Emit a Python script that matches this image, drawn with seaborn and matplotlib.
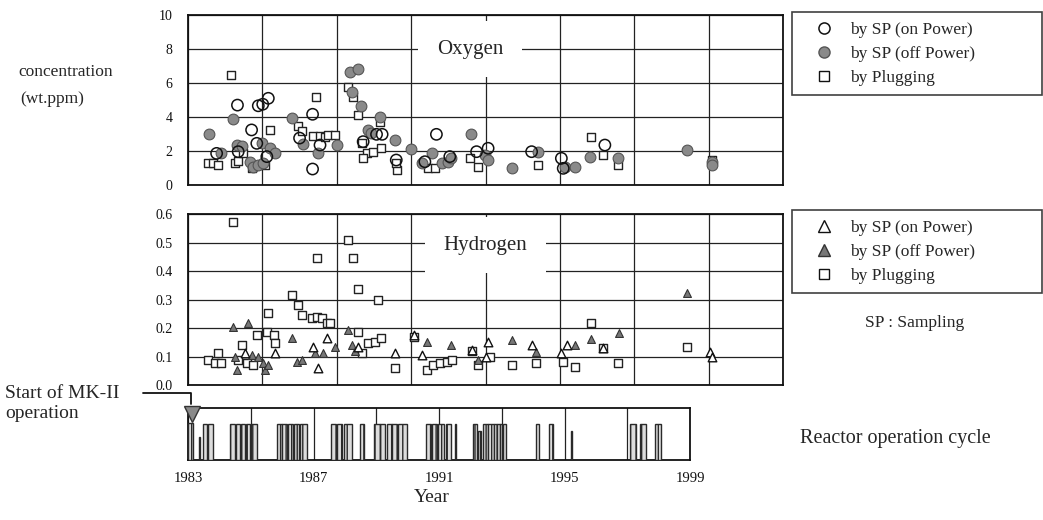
import matplotlib
matplotlib.use("Agg")
import matplotlib.pyplot as plt
from matplotlib.lines import Line2D
import numpy as np
import pandas as pd
import seaborn as sns

# ---------------- data ----------------
# Oxygen (wt.ppm)
o2_on_year = [1983.77, 1984.33, 1984.35, 1984.71, 1984.85, 1984.89, 1985.01, 1985.12, 1985.16,
              1986.00, 1986.35, 1986.35, 1986.55, 1987.71, 1988.07, 1988.22, 1988.60, 1989.37,
              1989.68, 1990.04, 1990.76, 1991.07, 1992.24, 1993.04, 1993.09, 1994.21]
o2_on_val = [1.86, 4.70, 1.96, 3.24, 2.45, 4.66, 4.75, 1.67, 5.10,
             2.76, 4.16, 0.94, 2.35, 2.55, 2.98, 2.98, 1.47, 1.37,
             2.98, 1.67, 1.96, 2.16, 1.96, 1.57, 0.98, 2.35]

o2_off_year = [1983.56, 1983.90, 1984.22, 1984.31, 1984.44, 1984.67, 1984.76, 1984.89, 1984.98,
               1985.02, 1985.20, 1985.34, 1985.79, 1986.10, 1986.50, 1987.00, 1987.36, 1987.58,
               1987.40, 1987.65, 1988.16, 1987.85, 1987.93, 1988.56, 1989.01, 1989.28, 1989.55,
               1989.82, 1990.00, 1990.08, 1990.62, 1990.99, 1991.07, 1991.70, 1992.42, 1993.13,
               1993.40, 1993.81, 1994.57, 1996.41, 1997.08, 1997.10]
o2_off_val = [3.00, 1.86, 3.86, 2.35, 2.30, 1.37, 1.08, 1.18, 2.45,
              1.27, 2.16, 1.86, 3.96, 2.40, 1.86, 2.35, 6.67, 6.82,
              5.49, 4.67, 4.02, 3.24, 3.04, 2.65, 2.12, 1.27, 1.90,
              1.27, 1.37, 1.57, 3.00, 1.76, 1.47, 0.98, 1.96, 1.08,
              1.08, 1.67, 1.57, 2.06, 1.37, 1.18]

o2_plug_year = [1983.55, 1983.68, 1983.82, 1984.16, 1984.26, 1984.35, 1984.49, 1984.71, 1985.07,
                1985.20, 1985.97, 1986.06, 1986.37, 1986.44, 1986.55, 1986.68, 1986.77, 1986.95,
                1987.31, 1987.44, 1987.58, 1988.16, 1987.67, 1987.80, 1987.98, 1988.20, 1987.71,
                1988.63, 1988.58, 1989.46, 1989.64, 1990.58, 1990.80, 1992.42, 1993.85, 1994.17,
                1994.57, 1997.08]
o2_plug_val = [1.27, 1.27, 1.20, 6.47, 1.27, 1.40, 1.86, 0.98, 1.18,
               3.24, 3.50, 3.20, 2.90, 5.20, 2.90, 2.84, 2.94, 2.94,
               5.78, 5.20, 4.12, 3.73, 2.45, 1.86, 1.96, 2.16, 1.57,
               0.88, 1.30, 0.98, 1.00, 1.57, 1.08, 1.18, 2.84, 1.76,
               1.18, 1.47]

# Hydrogen (wt.ppm)
h2_on_year = [1984.53, 1985.34, 1986.37, 1986.50, 1986.73, 1987.58, 1988.56, 1989.07, 1989.28,
              1990.63, 1991.00, 1991.07, 1992.24, 1993.04, 1993.18, 1994.17, 1997.04, 1997.08]
h2_on_val = [0.111, 0.111, 0.134, 0.058, 0.164, 0.134, 0.111, 0.175, 0.105,
             0.123, 0.099, 0.152, 0.140, 0.111, 0.140, 0.129, 0.117, 0.099]

h2_off_year = [1984.22, 1984.62, 1984.26, 1984.31, 1984.71, 1984.89, 1985.03, 1985.07, 1985.16,
               1985.79, 1985.92, 1986.06, 1986.42, 1986.64, 1986.95, 1987.31, 1987.40, 1987.50,
               1989.42, 1990.07, 1990.80, 1991.70, 1992.37, 1993.40, 1993.84, 1994.59, 1996.43]
h2_off_val = [0.205, 0.216, 0.099, 0.053, 0.105, 0.099, 0.076, 0.053, 0.070,
              0.164, 0.082, 0.088, 0.111, 0.111, 0.134, 0.193, 0.140, 0.120,
              0.152, 0.140, 0.088, 0.158, 0.117, 0.140, 0.160, 0.181, 0.322]

h2_plug_year = [1983.55, 1983.73, 1983.82, 1983.90, 1984.22, 1984.35, 1984.44, 1984.58, 1984.76,
                1984.85, 1985.12, 1985.16, 1985.30, 1985.34, 1985.79, 1985.97, 1986.06, 1986.33,
                1986.46, 1986.46, 1986.60, 1986.73, 1986.82, 1987.31, 1987.44, 1987.58, 1988.12,
                1987.58, 1987.67, 1987.85, 1988.03, 1988.20, 1988.56, 1989.07, 1989.42, 1989.60,
                1989.78, 1989.96, 1990.09, 1990.63, 1990.80, 1991.12, 1991.70, 1992.37, 1993.09,
                1993.40, 1993.84, 1994.17, 1994.57, 1996.43]
h2_plug_val = [0.088, 0.076, 0.111, 0.076, 0.573, 0.088, 0.140, 0.076, 0.070,
               0.175, 0.187, 0.252, 0.175, 0.146, 0.316, 0.281, 0.246, 0.234,
               0.240, 0.444, 0.234, 0.216, 0.216, 0.509, 0.444, 0.336, 0.300,
               0.187, 0.111, 0.146, 0.152, 0.164, 0.058, 0.170, 0.053, 0.070,
               0.076, 0.082, 0.088, 0.120, 0.070, 0.099, 0.070, 0.076, 0.082,
               0.064, 0.216, 0.129, 0.076, 0.132]

# Reactor operation cycles (start year, end year, relative height)
cycle_start = [1983.00, 1983.36, 1983.48, 1983.64, 1984.35, 1984.53, 1984.69, 1984.84, 1985.01,
               1985.83, 1986.01, 1986.20, 1986.38, 1986.57, 1987.57, 1987.75, 1987.96, 1988.47,
               1988.94, 1989.13, 1989.33, 1989.51, 1989.70, 1990.57, 1990.77, 1990.98, 1991.21,
               1991.50, 1992.07, 1992.23, 1992.39, 1992.57, 1992.76, 1992.86, 1992.95, 1993.04,
               1994.09, 1994.52, 1995.21, 1997.08, 1997.40, 1997.88]
cycle_end = [1983.16, 1983.38, 1983.62, 1983.80, 1984.49, 1984.65, 1984.81, 1984.97, 1985.21,
             1985.99, 1986.17, 1986.36, 1986.54, 1986.79, 1987.71, 1987.91, 1988.23, 1988.60,
             1989.11, 1989.29, 1989.49, 1989.67, 1989.99, 1990.73, 1990.95, 1991.16, 1991.37,
             1991.54, 1992.21, 1992.33, 1992.55, 1992.74, 1992.84, 1992.93, 1993.02, 1993.13,
             1994.20, 1994.63, 1995.25, 1997.29, 1997.61, 1998.09]
cycle_height = [0.72, 0.45, 0.70, 0.70, 0.70, 0.70, 0.70, 0.70, 0.70,
                0.70, 0.70, 0.70, 0.70, 0.70, 0.70, 0.70, 0.70, 0.70,
                0.70, 0.70, 0.70, 0.70, 0.70, 0.70, 0.70, 0.70, 0.70,
                0.70, 0.70, 0.55, 0.70, 0.70, 0.70, 0.70, 0.70, 0.70,
                0.70, 0.70, 0.55, 0.70, 0.70, 0.70]

year_ticks = [1983, 1987, 1991, 1995, 1999]
o2_ticks = [0, 2, 4, 6, 8, 10]
h2_ticks = [0.0, 0.1, 0.2, 0.3, 0.4, 0.5, 0.6]

# ---------------- style ----------------
sns.set_theme(style="white")
plt.rcParams["font.family"] = ["Liberation Serif", "DejaVu Serif"]
plt.rcParams["axes.edgecolor"] = "#111111"
plt.rcParams["axes.linewidth"] = 1.3

W, H = 1043, 520
fig = plt.figure(figsize=(W / 100, H / 100), dpi=100)


def frac(x0, y0, x1, y1):
    return [x0 / W, 1 - y1 / H, (x1 - x0) / W, (y1 - y0) / H]


ax1 = fig.add_axes(frac(188, 15, 783, 185))
ax2 = fig.add_axes(frac(188, 214, 783, 385))
ax3 = fig.add_axes(frac(188, 408, 690, 460))

gray_fill = "#8a8a8a"
gray_edge = "#555555"


def scatter(ax, xs, ys, marker, face, edge, size, lw=1.0):
    df = pd.DataFrame({"year": xs, "value": ys})
    sns.scatterplot(data=df, x="year", y="value", ax=ax, marker=marker, s=size,
                    facecolor=face, edgecolor=edge, linewidth=lw, zorder=4, legend=False)


# Oxygen panel
scatter(ax1, o2_plug_year, o2_plug_val, "s", "white", "#222222", 26, 1.0)
scatter(ax1, o2_off_year, o2_off_val, "o", gray_fill, gray_edge, 60, 0.8)
scatter(ax1, o2_on_year, o2_on_val, "o", "none", "#111111", 66, 1.1)

# Hydrogen panel
scatter(ax2, h2_plug_year, h2_plug_val, "s", "white", "#222222", 26, 1.0)
scatter(ax2, h2_off_year, h2_off_val, "^", "#777777", "#333333", 32, 0.8)
scatter(ax2, h2_on_year, h2_on_val, "^", "white", "#111111", 38, 1.0)

for ax in (ax1, ax2):
    ax.set_xlim(1983, 1999)
    ax.set_xticks(np.arange(1983, 2000, 2))
    ax.tick_params(axis="x", length=0, labelbottom=False)
    ax.tick_params(axis="y", length=3, width=1, colors="#111111", labelsize=10, pad=8)
    ax.grid(True, color="#222222", linewidth=0.9)
    ax.set_axisbelow(True)
    ax.set_xlabel("")
    ax.set_ylabel("")
    for sp in ax.spines.values():
        sp.set_color("#111111")

ax1.set_ylim(0, 10)
ax1.set_yticks(o2_ticks)
ax1.set_yticklabels([str(t) for t in o2_ticks])
ax2.set_ylim(0, 0.6)
ax2.set_yticks(h2_ticks)
ax2.set_yticklabels([f"{t:.1f}" for t in h2_ticks])

ax1.text(1990.58, 8.0, "Oxygen", fontsize=15, ha="center", va="center", zorder=6,
         bbox=dict(boxstyle="square,pad=0.9", facecolor="white", edgecolor="none"))
ax2.text(1990.99, 0.491, "Hydrogen", fontsize=15, ha="center", va="center", zorder=6,
         bbox=dict(boxstyle="square,pad=0.9", facecolor="white", edgecolor="none"))

# Reactor operation cycle panel
widths = [e - s for s, e in zip(cycle_start, cycle_end)]
ax3.bar(cycle_start, cycle_height, width=widths, align="edge", facecolor="#dcdcdc",
        edgecolor="#2a2a2a", linewidth=1.0, hatch="|||", zorder=3)
ax3.set_xlim(1983, 1999)
ax3.set_ylim(0, 1)
ax3.set_xticks(year_ticks)
ax3.set_xticks(np.arange(1985, 1999, 4), minor=True)
ax3.set_xticklabels([str(t) for t in year_ticks])
ax3.set_yticks([])
ax3.tick_params(axis="x", which="both", length=0, labelsize=10.5, pad=9, colors="#111111")
ax3.grid(True, axis="x", which="both", color="#222222", linewidth=0.9)
ax3.set_axisbelow(True)
ax3.plot([1983.12], [0.88], marker="v", markersize=11, color="#8a8a8a",
         markeredgecolor="#333333", clip_on=False, zorder=6)

# Arrow from "Start of MK-II operation"
fig.add_artist(Line2D([143 / W, 191 / W, 191 / W], [1 - 393 / H, 1 - 393 / H, 1 - 404 / H],
                      transform=fig.transFigure, color="#111111", linewidth=1.3))

# Texts
fig.text(18 / W, 1 - 72 / H, "concentration", fontsize=12.5, ha="left", va="center")
fig.text(20 / W, 1 - 99 / H, "(wt.ppm)", fontsize=12.5, ha="left", va="center")
fig.text(5 / W, 1 - 394 / H, "Start of MK-II", fontsize=14, ha="left", va="center")
fig.text(5 / W, 1 - 413 / H, "operation", fontsize=14, ha="left", va="center")
fig.text(432 / W, 1 - 498 / H, "Year", fontsize=14, ha="center", va="center")
fig.text(915 / W, 1 - 323 / H, "SP : Sampling", fontsize=12.5, ha="center", va="center")
fig.text(800 / W, 1 - 438 / H, "Reactor operation cycle", fontsize=14.5, ha="left", va="center")

# Legends
leg_o = [
    Line2D([], [], ls="none", marker="o", markersize=8, markerfacecolor="none",
           markeredgecolor="#111111", markeredgewidth=1.1),
    Line2D([], [], ls="none", marker="o", markersize=8, markerfacecolor=gray_fill,
           markeredgecolor=gray_edge),
    Line2D([], [], ls="none", marker="s", markersize=7, markerfacecolor="white",
           markeredgecolor="#111111"),
]
leg_h = [
    Line2D([], [], ls="none", marker="^", markersize=8, markerfacecolor="white",
           markeredgecolor="#111111"),
    Line2D([], [], ls="none", marker="^", markersize=8, markerfacecolor="#777777",
           markeredgecolor="#333333"),
    Line2D([], [], ls="none", marker="s", markersize=7, markerfacecolor="white",
           markeredgecolor="#111111"),
]
labels = ["by SP (on Power)", "by SP (off Power)", "by Plugging"]

for handles, y0, y1 in ((leg_o, 12, 100), (leg_h, 210, 293)):
    lg = fig.legend(handles, labels, loc="upper left",
                    bbox_to_anchor=(792 / W, 1 - y1 / H, 250 / W, (y1 - y0) / H),
                    mode="expand", frameon=True, fancybox=False, fontsize=12.5,
                    borderpad=0.55, labelspacing=0.45, handletextpad=0.25,
                    handlelength=2.55, borderaxespad=0)
    lg.get_frame().set_edgecolor("#111111")
    lg.get_frame().set_linewidth(1.2)

fig.savefig("out.png", dpi=100)
